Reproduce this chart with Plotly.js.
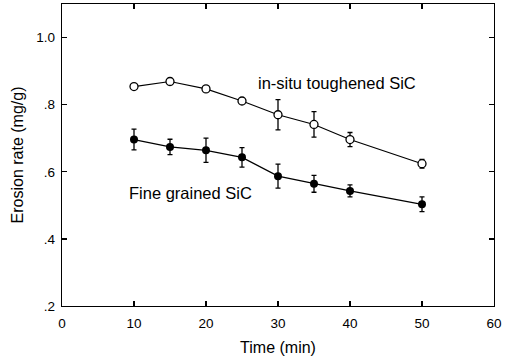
<!DOCTYPE html>
<html>
<head>
<meta charset="utf-8">
<script src="https://cdn.plot.ly/plotly-3.0.1.min.js"></script>
<style>html,body{margin:0;padding:0;background:#fff;}#chart{width:508px;height:362px;}</style>
</head>
<body>
<div id="chart"></div>
<script>
const time = [10, 15, 20, 25, 30, 35, 40, 50];
const toughened = [0.854, 0.869, 0.847, 0.811, 0.770, 0.741, 0.696, 0.624];
const toughenedErr = [0.005, 0.009, 0.005, 0.005, 0.045, 0.038, 0.021, 0.013];
const fine = [0.696, 0.674, 0.664, 0.643, 0.587, 0.564, 0.543, 0.503];
const fineErr = [0.031, 0.023, 0.036, 0.029, 0.036, 0.025, 0.018, 0.022];
const xTicks = [0, 10, 20, 30, 40, 50, 60];
const yTicks = [0.2, 0.4, 0.6, 0.8, 1.0];
const yTickText = ['.2', '.4', '.6', '.8', '1.0'];

const font = {family: 'Liberation Sans, Arial, sans-serif', color: '#000'};

const traces = [
  {
    x: time, y: fine, type: 'scatter', mode: 'lines+markers',
    line: {color: '#000', width: 1.2},
    marker: {symbol: 'circle', size: 8, color: '#000'},
    error_y: {type: 'data', array: fineErr, visible: true, color: '#000', thickness: 1.3, width: 2.5}
  },
  {
    x: time, y: toughened, type: 'scatter', mode: 'lines+markers',
    line: {color: '#000', width: 1.2},
    marker: {symbol: 'circle', size: 8, color: '#fff', line: {color: '#000', width: 1.3}},
    error_y: {type: 'data', array: toughenedErr, visible: true, color: '#000', thickness: 1.3, width: 2.5}
  }
];

const layout = {
  width: 508, height: 362,
  margin: {l: 62, r: 14, t: 4, b: 56},
  paper_bgcolor: '#fff', plot_bgcolor: '#fff',
  showlegend: false,
  font: Object.assign({size: 13}, font),
  xaxis: {
    range: [0, 60], tickvals: xTicks, ticktext: xTicks.map(String),
    ticks: 'inside', ticklen: 5, tickwidth: 1.3, tickcolor: '#000',
    showline: true, linecolor: '#000', linewidth: 1.3, mirror: 'ticks',
    showgrid: false, zeroline: false, ticklabelstandoff: 4,
    tickfont: Object.assign({size: 13.5}, font),
    title: {text: 'Time (min)', font: Object.assign({size: 16}, font), standoff: 12}
  },
  yaxis: {
    range: [0.2, 1.1], tickvals: yTicks, ticktext: yTickText,
    ticks: 'inside', ticklen: 5, tickwidth: 1.3, tickcolor: '#000',
    showline: true, linecolor: '#000', linewidth: 1.3, mirror: 'ticks',
    showgrid: false, zeroline: false, ticklabelstandoff: 3,
    tickfont: Object.assign({size: 13.5}, font),
    title: {text: 'Erosion rate (mg/g)', font: Object.assign({size: 16}, font), standoff: 8}
  },
  annotations: [
    {x: 27.0, y: 0.866, xref: 'x', yref: 'y', text: 'in-situ toughened SiC', showarrow: false,
     xanchor: 'left', yanchor: 'middle', font: Object.assign({size: 16.5}, font)},
    {x: 9.0, y: 0.537, xref: 'x', yref: 'y', text: 'Fine grained SiC', showarrow: false,
     xanchor: 'left', yanchor: 'middle', font: Object.assign({size: 16.5}, font)}
  ]
};

Plotly.newPlot('chart', traces, layout, {displayModeBar: false, staticPlot: true});
</script>
</body>
</html>
